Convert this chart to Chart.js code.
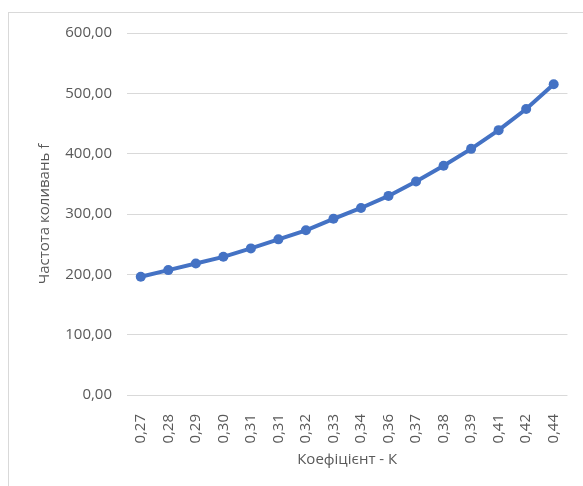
<!DOCTYPE html>
<html lang="uk">
<head>
    <meta charset="UTF-8">
    <title>Частота коливань</title>
    <script src="https://cdn.jsdelivr.net/npm/chart.js"></script>
    <style>
        html, body { margin: 0; padding: 0; background: #fff; }
        #wrap { width: 583px; height: 486px; }
    </style>
</head>
<body>
    <div id="wrap"><canvas id="freqChart" width="583" height="486"></canvas></div>
    <script>
        // values
        var kLabels = ['0,27', '0,28', '0,29', '0,30', '0,31', '0,31', '0,32', '0,33',
                       '0,34', '0,36', '0,37', '0,38', '0,39', '0,41', '0,42', '0,44'];
        var freq = [196, 207, 218, 229, 243, 258, 273, 292, 310, 330, 354, 380, 408, 439, 474, 515];

        var textColor = '#595959';
        var gridColor = '#d9d9d9';
        var font = { family: '"Open Sans", sans-serif', size: 15 };

        // light frame round the chart, like the Excel chart area
        var framePlugin = {
            id: 'frame',
            beforeDraw: function(chart) {
                var c = chart.ctx;
                c.save();
                c.fillStyle = '#fff';
                c.fillRect(0, 0, chart.width, chart.height);
                c.strokeStyle = gridColor;
                c.lineWidth = 1;
                c.strokeRect(8.5, 12.5, 700, 600);
                c.restore();
            }
        };

        var ctx = document.getElementById('freqChart').getContext('2d');
        var chart = new Chart(ctx, {
            type: 'line',
            data: {
                labels: kLabels,
                datasets: [{
                    label: 'f',
                    data: freq,
                    borderColor: '#4472c4',
                    backgroundColor: '#4472c4',
                    borderWidth: 4,
                    pointRadius: 5,
                    pointBorderWidth: 0,
                    pointBackgroundColor: '#4472c4',
                    tension: 0
                }]
            },
            options: {
                responsive: false,
                animation: false,
                layout: { padding: { top: 33, right: 10, left: 0, bottom: 0 } },
                plugins: {
                    legend: { display: false },
                    tooltip: { enabled: false }
                },
                scales: {
                    x: {
                        offset: true,
                        grid: { display: false },
                        border: { display: false },
                        ticks: {
                            color: textColor,
                            font: font,
                            minRotation: 90,
                            maxRotation: 90,
                            autoSkip: false,
                            padding: 11
                        },
                        title: {
                            display: true,
                            text: 'Коефіцієнт - К',
                            color: textColor,
                            font: font,
                            padding: { top: 0, bottom: 17 }
                        },
                        afterFit: function(scale) { scale.height = 91; }
                    },
                    y: {
                        min: 0,
                        max: 600,
                        grid: { color: gridColor, lineWidth: 1, drawTicks: false },
                        border: { display: false },
                        ticks: {
                            stepSize: 100,
                            color: textColor,
                            font: font,
                            padding: 15,
                            callback: function(v) { return v.toFixed(2).replace('.', ','); }
                        },
                        title: {
                            display: true,
                            text: 'Частота коливань f',
                            color: textColor,
                            font: font,
                            padding: { top: 36, bottom: 0 }
                        },
                        afterFit: function(scale) { scale.width = 127; }
                    }
                }
            },
            plugins: [framePlugin]
        });
    </script>
</body>
</html>
